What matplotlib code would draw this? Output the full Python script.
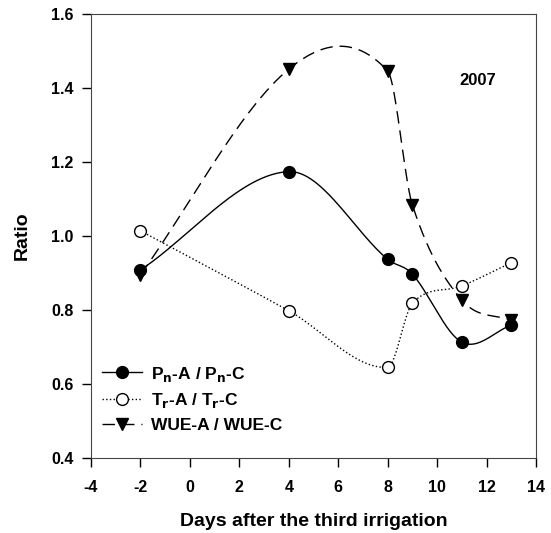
import numpy as np
import matplotlib
matplotlib.use("Agg")
import matplotlib.pyplot as plt

days = [-2, 4, 8, 9, 11, 13]
pn_ratio = [0.908, 1.174, 0.937, 0.897, 0.713, 0.759]
tr_ratio = [1.014, 0.798, 0.645, 0.818, 0.865, 0.928]
wue_ratio = [0.895, 1.451, 1.446, 1.084, 0.827, 0.772]


def smooth(x, y, n=60):
    # Catmull-Rom style cubic through the points, like the original spline curves
    x = np.asarray(x, float)
    y = np.asarray(y, float)
    k = len(x)
    m = np.zeros(k)
    m[0] = (y[1] - y[0]) / (x[1] - x[0])
    m[-1] = (y[-1] - y[-2]) / (x[-1] - x[-2])
    for i in range(1, k - 1):
        m[i] = (y[i + 1] - y[i - 1]) / (x[i + 1] - x[i - 1])
    xs_all, ys_all = [], []
    for i in range(k - 1):
        h = x[i + 1] - x[i]
        t = np.linspace(0, 1, n)
        h00 = 2 * t**3 - 3 * t**2 + 1
        h10 = t**3 - 2 * t**2 + t
        h01 = -2 * t**3 + 3 * t**2
        h11 = t**3 - t**2
        xs_all.append(x[i] + t * h)
        ys_all.append(h00 * y[i] + h10 * h * m[i] + h01 * y[i + 1] + h11 * h * m[i + 1])
    return np.concatenate(xs_all), np.concatenate(ys_all)


plt.rcParams['font.family'] = ['Liberation Sans', 'DejaVu Sans']
plt.rcParams['font.weight'] = 'bold'
plt.rcParams['mathtext.default'] = 'bf'
plt.rcParams['axes.unicode_minus'] = False

fig = plt.figure(figsize=(5.51, 5.33), dpi=100)
ax = fig.add_axes([91 / 551, 75 / 533, 445 / 551, 444 / 533])

series = [
    (pn_ratio, '-', 'o', 'black', r'P$_n$-A / P$_n$-C'),
    (tr_ratio, ':', 'o', 'white', r'T$_r$-A / T$_r$-C'),
    (wue_ratio, (0, (9, 5)), 'v', 'black', 'WUE-A / WUE-C'),
]
handles = []
for vals, ls, mk, fc, lab in series:
    xs, ys = smooth(days, vals)
    ax.plot(xs, ys, color='black', lw=1.0, ls=ls)
    ax.plot(days, vals, ls='none', marker=mk, ms=8.5, mfc=fc, mec='black', mew=1.0)
    h, = ax.plot([], [], color='black', lw=1.0, ls=ls, marker=mk, ms=8.5,
                 mfc=fc, mec='black', label=lab)
    handles.append(h)

ax.set_xlim(-4, 14)
ax.set_ylim(0.4, 1.6)
ax.set_xticks(np.arange(-4, 15, 2))
ax.set_yticks(np.arange(0.4, 1.61, 0.2))
ax.set_yticklabels(['0.4', '0.6', '0.8', '1.0', '1.2', '1.4', '1.6'])
ax.tick_params(direction='out', length=6.5, width=1, labelsize=11.5, pad=6)
ax.tick_params(axis='x', pad=9)
for s in ax.spines.values():
    s.set_color('#444444')

ax.set_xlabel('Days after the third irrigation', fontsize=14, fontweight='bold', labelpad=13)
ax.set_ylabel('Ratio', fontsize=14, fontweight='bold', labelpad=15)
ax.text(11.63, 1.42, '2007', fontsize=12, fontweight='bold', ha='center', va='center')

ax.legend(handles=handles, loc='center left', bbox_to_anchor=(11 / 445, 0.133), frameon=False,
          fontsize=12.5, handlelength=2.3, labelspacing=0.45, handletextpad=0.55,
          borderaxespad=0, borderpad=0)

fig.savefig('out.png', dpi=100)
